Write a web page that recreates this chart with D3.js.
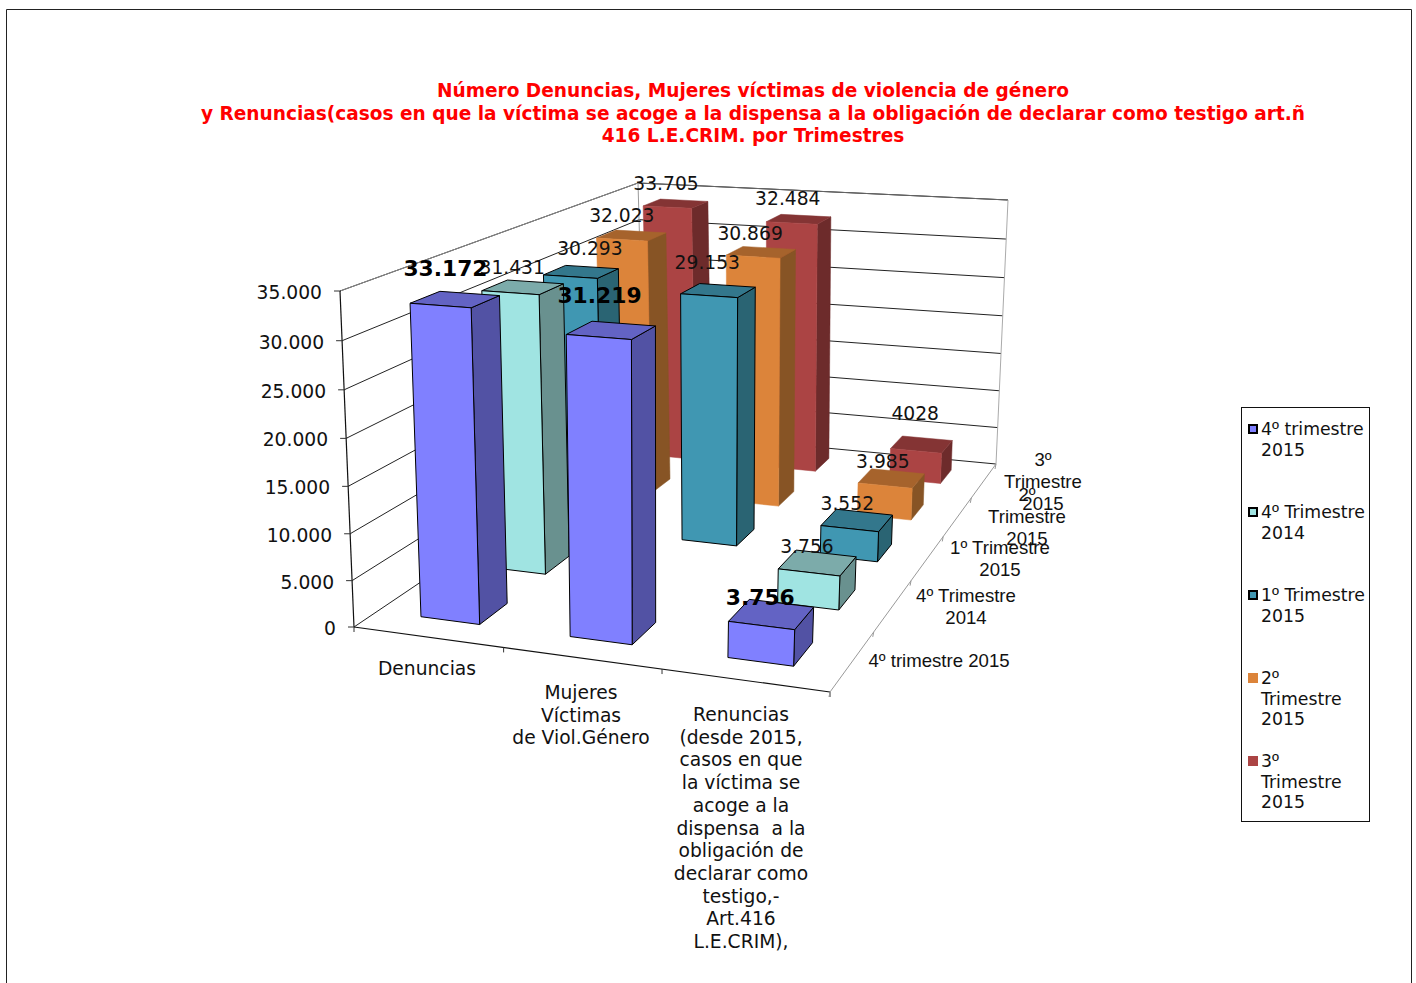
<!DOCTYPE html>
<html>
<head>
<meta charset="utf-8">
<script src="https://cdnjs.cloudflare.com/ajax/libs/d3/7.8.5/d3.min.js"></script>
<style>
html, body { margin: 0; padding: 0; background: #fff; overflow: hidden; }
text { font-family: "DejaVu Sans", sans-serif; fill: #111; white-space: pre; }
</style>
</head>
<body>
<svg id="chart" width="1416" height="983"></svg>
<script>
var titleLines = [
    "Número Denuncias, Mujeres víctimas de violencia de género",
    "y Renuncias(casos en que la víctima se acoge a la dispensa a la obligación de declarar como testigo art.ñ",
    "416 L.E.CRIM. por Trimestres"
];

var categories = ["Denuncias", "Mujeres Víctimas de Viol.Género", "Renuncias"];
var categoryLabels = [
    ["Denuncias"],
    ["Mujeres", "Víctimas", "de Viol.Género"],
    ["Renuncias", "(desde 2015,", "casos en que", "la víctima se", "acoge a la", "dispensa  a la",
     "obligación de", "declarar como", "testigo,-", "Art.416", "L.E.CRIM),"]
];

var seriesNames = ["s0", "s1", "s2", "s3", "s4"];
var seriesAxisLabels = [
    ["4º trimestre 2015"],
    ["4º Trimestre", "2014"],
    ["1º Trimestre", "2015"],
    ["2º", "Trimestre", "2015"],
    ["3º", "Trimestre", "2015"]
];
var legendLabels = [
    ["4º trimestre", "2015"],
    ["4º Trimestre", "2014"],
    ["1º Trimestre", "2015"],
    ["2º", "Trimestre", "2015"],
    ["3º", "Trimestre", "2015"]
];

var trim4_2015 = [33172, 31219, 3756];
var trim4_2014 = [31431, null, 3756];
var trim1_2015 = [30293, 29153, 3552];
var trim2_2015 = [32023, 30869, 3985];
var trim3_2015 = [33705, 32484, 4028];
var seriesValues = [trim4_2015, trim4_2014, trim1_2015, trim2_2015, trim3_2015];
var unseparated = [4028];

var valueTicks = [0, 5000, 10000, 15000, 20000, 25000, 30000, 35000];

var frontColors = ["#8080ff", "#a0e4e2", "#4097b2", "#dc843a", "#ab4444"];
var topColors = ["#6363c4", "#7cabaa", "#33778c", "#a6632c", "#843434"];
var sideColors = ["#5252a4", "#69918f", "#2a6473", "#875425", "#6d2b2b"];
var outlined = [true, true, true, false, false];

// where each data label was dragged to, relative to the back of its bar top
var labelShift = [
    [[-24, -17], [-24, -21], [-21, 2]],
    [[-23, -8], null, [-19, 0]],
    [[-2, -12], [-20, -16], [-17, -2]],
    [[-19, -9], [-19, -8], [-15, -3]],
    [[-18, -10], [-18, -11], [-12, -18]]
];

var svg = d3.select("#chart");
var es = d3.formatLocale({ decimal: ",", thousands: ".", grouping: [3], currency: ["", ""] });
var fmt = es.format(",d");

function label(v) {
    return unseparated.indexOf(v) >= 0 ? String(v) : fmt(v);
}

// the box of the 3d chart on screen: floor and ceiling, front-left, front-right, back-right, back-left
var floorQuad = [[354, 627], [830, 692], [996, 464], [645, 431]];
var ceilQuad = [[340, 291], [844, 328], [1008, 200], [638, 183]];
var perspective = 0.96;

function makeHomography(q) {
    var dx1 = q[1][0] - q[2][0], dx2 = q[3][0] - q[2][0], sx = q[0][0] - q[1][0] + q[2][0] - q[3][0];
    var dy1 = q[1][1] - q[2][1], dy2 = q[3][1] - q[2][1], sy = q[0][1] - q[1][1] + q[2][1] - q[3][1];
    var den = dx1 * dy2 - dx2 * dy1;
    var g = (sx * dy2 - dx2 * sy) / den;
    var h = (dx1 * sy - sx * dy1) / den;
    var a = q[1][0] - q[0][0] + g * q[1][0], b = q[3][0] - q[0][0] + h * q[3][0], c = q[0][0];
    var d = q[1][1] - q[0][1] + g * q[1][1], e = q[3][1] - q[0][1] + h * q[3][1], f = q[0][1];
    return function (u, v) {
        var w = g * u + h * v + 1;
        return [(a * u + b * v + c) / w, (d * u + e * v + f) / w];
    };
}

var floorAt = makeHomography(floorQuad);
var ceilAt = makeHomography(ceilQuad);

var xScale = d3.scaleBand().domain(categories).range([0, 1]).paddingInner(0.6).paddingOuter(0.3);
var zScale = d3.scaleBand().domain(seriesNames).range([0, 1]).paddingInner(0.6).paddingOuter(0.3);
var yScale = d3.scaleLinear().domain([0, 35000]).range([0, 1]);

function project(u, v, value) {
    var t = yScale(value);
    var s = t * perspective / (1 + t * (perspective - 1));
    var a = floorAt(u, v), b = ceilAt(u, v);
    return [a[0] + (b[0] - a[0]) * s, a[1] + (b[1] - a[1]) * s];
}

function seg(g, p, q, color, width) {
    g.append("line")
        .attr("x1", p[0]).attr("y1", p[1])
        .attr("x2", q[0]).attr("y2", q[1])
        .attr("stroke", color)
        .attr("stroke-width", width || 1);
}

// outer frame
svg.append("path")
    .attr("d", d3.line()([[6.5, 990], [6.5, 9.5], [1411.5, 9.5], [1411.5, 990]]))
    .attr("fill", "none")
    .attr("stroke", "#222")
    .attr("stroke-width", 1);

// title
svg.append("g").selectAll("text")
    .data(titleLines)
    .join("text")
    .attr("x", 753)
    .attr("y", function (d, i) { return 97 + i * 22.5; })
    .attr("text-anchor", "middle")
    .attr("font-size", 18.55)
    .attr("font-weight", "bold")
    .style("fill", "#ff0000")
    .text(function (d) { return d; });

// walls
var walls = svg.append("g");
valueTicks.forEach(function (v) {
    seg(walls, project(0, 0, v), project(0, 1, v), "#222");
    seg(walls, project(0, 1, v), project(1, 1, v), "#222");
});
seg(walls, project(0, 0, 35000), project(0, 1, 35000), "#888");
seg(walls, project(0, 1, 35000), project(1, 1, 35000), "#666");
seg(walls, project(0, 1, 0), project(0, 1, 35000), "#999");
seg(walls, project(1, 1, 0), project(1, 1, 35000), "#aaa");
seg(walls, project(0, 0, 0), project(1, 0, 0), "#111", 1.2);
seg(walls, project(1, 0, 0), project(1, 1, 0), "#999");
seg(walls, project(0, 0, 0), project(0, 0, 35000), "#111", 1.2);

// ticks
valueTicks.forEach(function (v) {
    var p = project(0, 0, v);
    seg(walls, [p[0] - 6, p[1]], [p[0] + 1, p[1]], "#333");
});
d3.range(0, 4).forEach(function (i) {
    var p = project(i / 3, 0, 0);
    seg(walls, p, [p[0], p[1] + 5], "#333");
});
d3.range(0, 6).forEach(function (j) {
    var p = project(1, j / 5, 0);
    seg(walls, p, [p[0] - 1, p[1] + 5], "#999");
});

// bars, back row first, left to right
var barsGroup = svg.append("g");
d3.range(seriesNames.length - 1, -1, -1).forEach(function (j) {
    categories.forEach(function (cat, i) {
        var value = seriesValues[j][i];
        if (value === null) return;
        var u0 = xScale(cat), u1 = u0 + xScale.bandwidth();
        var v0 = zScale(seriesNames[j]), v1 = v0 + zScale.bandwidth();
        var faces = [
            { color: sideColors[j], pts: [project(u1, v0, 0), project(u1, v1, 0), project(u1, v1, value), project(u1, v0, value)] },
            { color: topColors[j], pts: [project(u0, v0, value), project(u1, v0, value), project(u1, v1, value), project(u0, v1, value)] },
            { color: frontColors[j], pts: [project(u0, v0, 0), project(u1, v0, 0), project(u1, v0, value), project(u0, v0, value)] }
        ];
        faces.forEach(function (f) {
            barsGroup.append("polygon")
                .attr("points", f.pts.join(" "))
                .attr("fill", f.color)
                .attr("stroke", outlined[j] ? "#000" : f.color)
                .attr("stroke-width", outlined[j] ? 1 : 0.5)
                .attr("stroke-linejoin", "round");
        });
    });
});

// value axis labels
svg.append("g").selectAll("text")
    .data(valueTicks)
    .join("text")
    .attr("x", function (d) { return project(0, 0, d)[0] - 18; })
    .attr("y", function (d) { return project(0, 0, d)[1] + 8; })
    .attr("text-anchor", "end")
    .attr("font-size", 18.7)
    .text(fmt);

// category labels
var catCenterX = [427, 581, 741];
var catTopY = [675, 699, 721];
categoryLabels.forEach(function (lines, i) {
    svg.append("text")
        .attr("text-anchor", "middle")
        .attr("font-size", 18.7)
        .selectAll("tspan")
        .data(lines)
        .join("tspan")
        .attr("x", catCenterX[i])
        .attr("y", function (d, k) { return catTopY[i] + k * 22.7; })
        .text(function (d) { return d; });
});

// series labels right of the floor
var serCenterX = [939, 966, 1000, 1027, 1043];
var serTopY = [667, 602, 554, 501, 466];
seriesAxisLabels.forEach(function (lines, j) {
    svg.append("text")
        .attr("text-anchor", "middle")
        .attr("font-size", 18.6)
        .selectAll("tspan")
        .data(lines)
        .join("tspan")
        .attr("x", serCenterX[j])
        .attr("y", function (d, k) { return serTopY[j] + k * 22; })
        .style("font-family", "Liberation Sans")
        .text(function (d) { return d; });
});

// data labels on top of everything
var dataLabels = svg.append("g");
d3.range(seriesNames.length - 1, -1, -1).forEach(function (j) {
    categories.forEach(function (cat, i) {
        var value = seriesValues[j][i];
        if (value === null) return;
        var u = xScale(cat) + xScale.bandwidth() / 2;
        var v = zScale(seriesNames[j]) + zScale.bandwidth();
        var p = project(u, v, value);
        dataLabels.append("text")
            .attr("x", p[0] + labelShift[j][i][0])
            .attr("y", p[1] + labelShift[j][i][1])
            .attr("text-anchor", "middle")
            .attr("font-size", j === 0 ? 21.8 : 18.7)
            .attr("font-weight", j === 0 ? "bold" : "normal")
            .style("fill", j === 0 ? "#000" : "#111")
            .text(label(value));
    });
});

// legend
var legend = svg.append("g");
legend.append("rect")
    .attr("x", 1241.5).attr("y", 407.5)
    .attr("width", 128).attr("height", 414)
    .attr("fill", "#fff")
    .attr("stroke", "#111");
var legendY = [429, 512, 595, 678, 761];
legendLabels.forEach(function (lines, j) {
    legend.append("rect")
        .attr("x", outlined[j] ? 1249 : 1248)
        .attr("y", legendY[j] - (outlined[j] ? 4 : 5))
        .attr("width", outlined[j] ? 8 : 10)
        .attr("height", outlined[j] ? 8 : 10)
        .attr("fill", frontColors[j])
        .attr("stroke", outlined[j] ? "#000" : "none")
        .attr("stroke-width", 2);
    var txt = legend.append("text").attr("font-size", 17.3);
    lines.forEach(function (line, k) {
        // the ordinal mark comes from a font that draws it without the underline
        var parts = line.split("º");
        txt.append("tspan")
            .attr("x", 1261)
            .attr("y", legendY[j] + 6 + k * 20.5)
            .text(parts[0]);
        if (parts.length > 1) {
            txt.append("tspan").style("font-family", "Liberation Sans").attr("font-size", 19).text("º");
            txt.append("tspan").text(parts[1]);
        }
    });
});
</script>
</body>
</html>
